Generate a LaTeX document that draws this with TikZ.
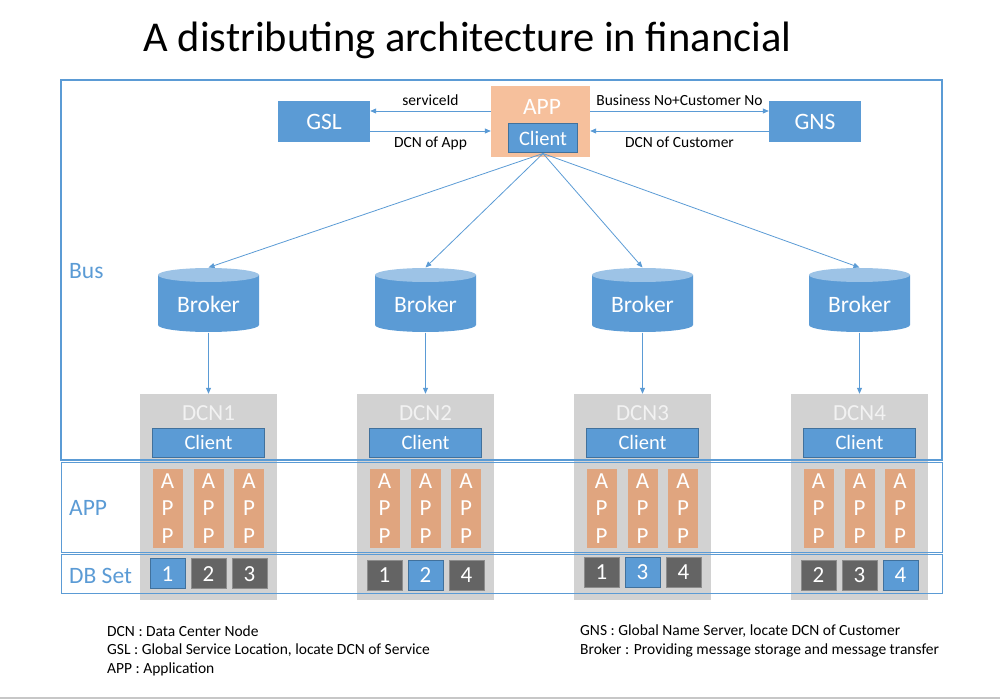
\documentclass[tikz,border=0pt]{standalone}
\usepackage{fontspec}
\setmainfont{Carlito}
\usetikzlibrary{arrows.meta}
\definecolor{cblue}{HTML}{5B9BD5}
\definecolor{cdark}{HTML}{41719C}
\definecolor{clight}{HTML}{9DC3E6}
\definecolor{cpeach}{HTML}{F6C09C}
\definecolor{capp}{HTML}{E0A57F}
\definecolor{cgrey}{HTML}{D2D2D2}
\definecolor{cdb}{HTML}{646464}
\definecolor{cdbline}{HTML}{8C8C8C}
\begin{document}
\begin{tikzpicture}[x=1pt,y=-1pt,
  arr/.style={draw=cblue, line width=0.8pt, -{Triangle[length=6pt,width=5pt]}},
  bluebox/.style={fill=cblue, text=white, font=\fontsize{23.5}{26}\selectfont, inner sep=0pt, minimum width=92pt, minimum height=41pt},
  clientbox/.style={fill=cblue, draw=cdark, line width=1pt, text=white, font=\fontsize{20.5}{22}\selectfont, inner sep=0pt, minimum width=112pt, minimum height=29pt},
  bandlbl/.style={text=cblue, font=\fontsize{23.5}{26}\selectfont, anchor=west, inner sep=0pt},
  arrlbl/.style={font=\fontsize{15.5}{18}\selectfont, inner sep=2pt},
  legend/.style={font=\fontsize{15.5}{18}\selectfont, anchor=west, inner sep=0pt},
  dcnbox/.style={fill=cgrey, minimum width=137pt, minimum height=206pt, inner sep=0pt},
  dcnlbl/.style={text=white!95!black, font=\fontsize{23}{26}\selectfont, inner sep=0pt},
  appcol/.style={fill=capp, text=white, minimum width=30pt, minimum height=79pt, inner sep=0pt, align=center, font=\fontsize{23}{27.5}\selectfont},
  dbsel/.style={fill=cblue, draw=cdark, line width=1pt, text=white, minimum width=35pt, minimum height=30pt, inner sep=0pt, font=\fontsize{23}{26}\selectfont},
  dbn/.style={fill=cdb, draw=cdbline, line width=1pt, text=white, minimum width=35pt, minimum height=30pt, inner sep=0pt, font=\fontsize{23}{26}\selectfont},
  brk/.style={text=white, font=\fontsize{23.5}{26}\selectfont, inner sep=0pt},
  band/.style={draw=cblue, line width=1.2pt}
]
\useasboundingbox (0,0) rectangle (1000,700);

% title
\node[font=\fontsize{42.5}{48}\selectfont] (title) at (467.5,40) {A distributing architecture in financial};

% top row
\node[bluebox] (gsl) at (324,121.5) {GSL};
\node[bluebox] (gns) at (815,121.5) {GNS};
\node[fill=cpeach, minimum width=99pt, minimum height=71pt, inner sep=0pt] (app) at (540.5,121.5) {};
\node[text=white, font=\fontsize{23.5}{26}\selectfont, inner sep=0pt] (apptxt) at (542,107) {APP};
\node[clientbox, minimum width=69pt] (cl) at (543,138.5) {Client};

\draw[arr] ([yshift=10.5pt]app.west) -- node[arrlbl, above, inner sep=4.5pt] {serviceId} ([yshift=10.5pt]gsl.east);
\draw[arr] ([yshift=-9.5pt]gsl.east) -- node[arrlbl, below, inner sep=5.5pt] {DCN of App} ([yshift=-9.5pt]app.west);
\draw[arr] ([yshift=10.5pt]app.east) -- node[arrlbl, above, inner sep=4.5pt] {Business No+Customer No} ([yshift=10.5pt]gns.west);
\draw[arr] ([yshift=-9.5pt]gns.west) -- node[arrlbl, below, inner sep=5.5pt] {DCN of Customer} ([yshift=-9.5pt]app.east);

% DCN columns
\foreach \i/\x/\a/\b/\c/\sa/\sb/\sc/\dy in {
  1/208.5/1/2/3/dbsel/dbn/dbn/573.7,
  2/425.5/1/2/4/dbn/dbsel/dbn/575,
  3/642.5/1/3/4/dbn/dbsel/dbn/572.5,
  4/859.5/2/3/4/dbn/dbn/dbsel/575.5}{
  % broker cylinder
  \fill[cblue] (\x-50.5,275) -- (\x-50.5,325) arc[start angle=180, end angle=360, x radius=50.5pt, y radius=7pt] -- (\x+50.5,275) -- cycle;
  \fill[clight] (\x,275) ellipse [x radius=50.5pt, y radius=7pt];
  \node[brk] (b\i) at (\x,304) {Broker};
  \coordinate (bt\i) at (\x,267.5);
  \coordinate (bb\i) at (\x,332.5);
  \draw[arr] (cl.south) -- (bt\i);
  % DCN box
  \node[dcnbox] (d\i) at (\x,497) {};
  \draw[arr] (bb\i) -- (d\i.north);
  \node[dcnlbl] (dl\i) at (\x,413) {DCN\i};
  \node[clientbox] (c\i) at (\x,442.5) {Client};
  \node[appcol] (a\i a) at (\x-41,508.5) {A\\P\\P};
  \node[appcol] (a\i b) at (\x,508.5) {A\\P\\P};
  \node[appcol] (a\i c) at (\x+40.5,508.5) {A\\P\\P};
  \node[\sa] (db\i a) at (\x-41,\dy) {\a};
  \node[\sb] (db\i b) at (\x,\dy) {\b};
  \node[\sc] (db\i c) at (\x+41,\dy) {\c};
}

% bands
\draw[band] (61,80) rectangle (942,460);
\draw[band, line width=1pt] (61,462) rectangle (942,552);
\draw[band, line width=1pt] (61,554) rectangle (942,593);
\node[bandlbl] (lbus) at (69,271) {Bus};
\node[bandlbl] (lapp) at (69,508) {APP};
\node[bandlbl] (ldb) at (69,576) {DB Set};

% legend
\node[legend] (lg1) at (107,631) {DCN : Data Center Node};
\node[legend] (lg2) at (107,650) {GSL : Global Service Location, locate DCN of Service};
\node[legend] (lg3) at (107,669) {APP : Application};
\node[legend] (lg4) at (580,631) {GNS : Global Name Server, locate DCN of Customer};
\node[legend] (lg5) at (580,650) {Broker : Providing message storage and message transfer};

\draw[black!22, line width=2pt] (0,698) -- (1000,698);
\end{tikzpicture}
\end{document}
